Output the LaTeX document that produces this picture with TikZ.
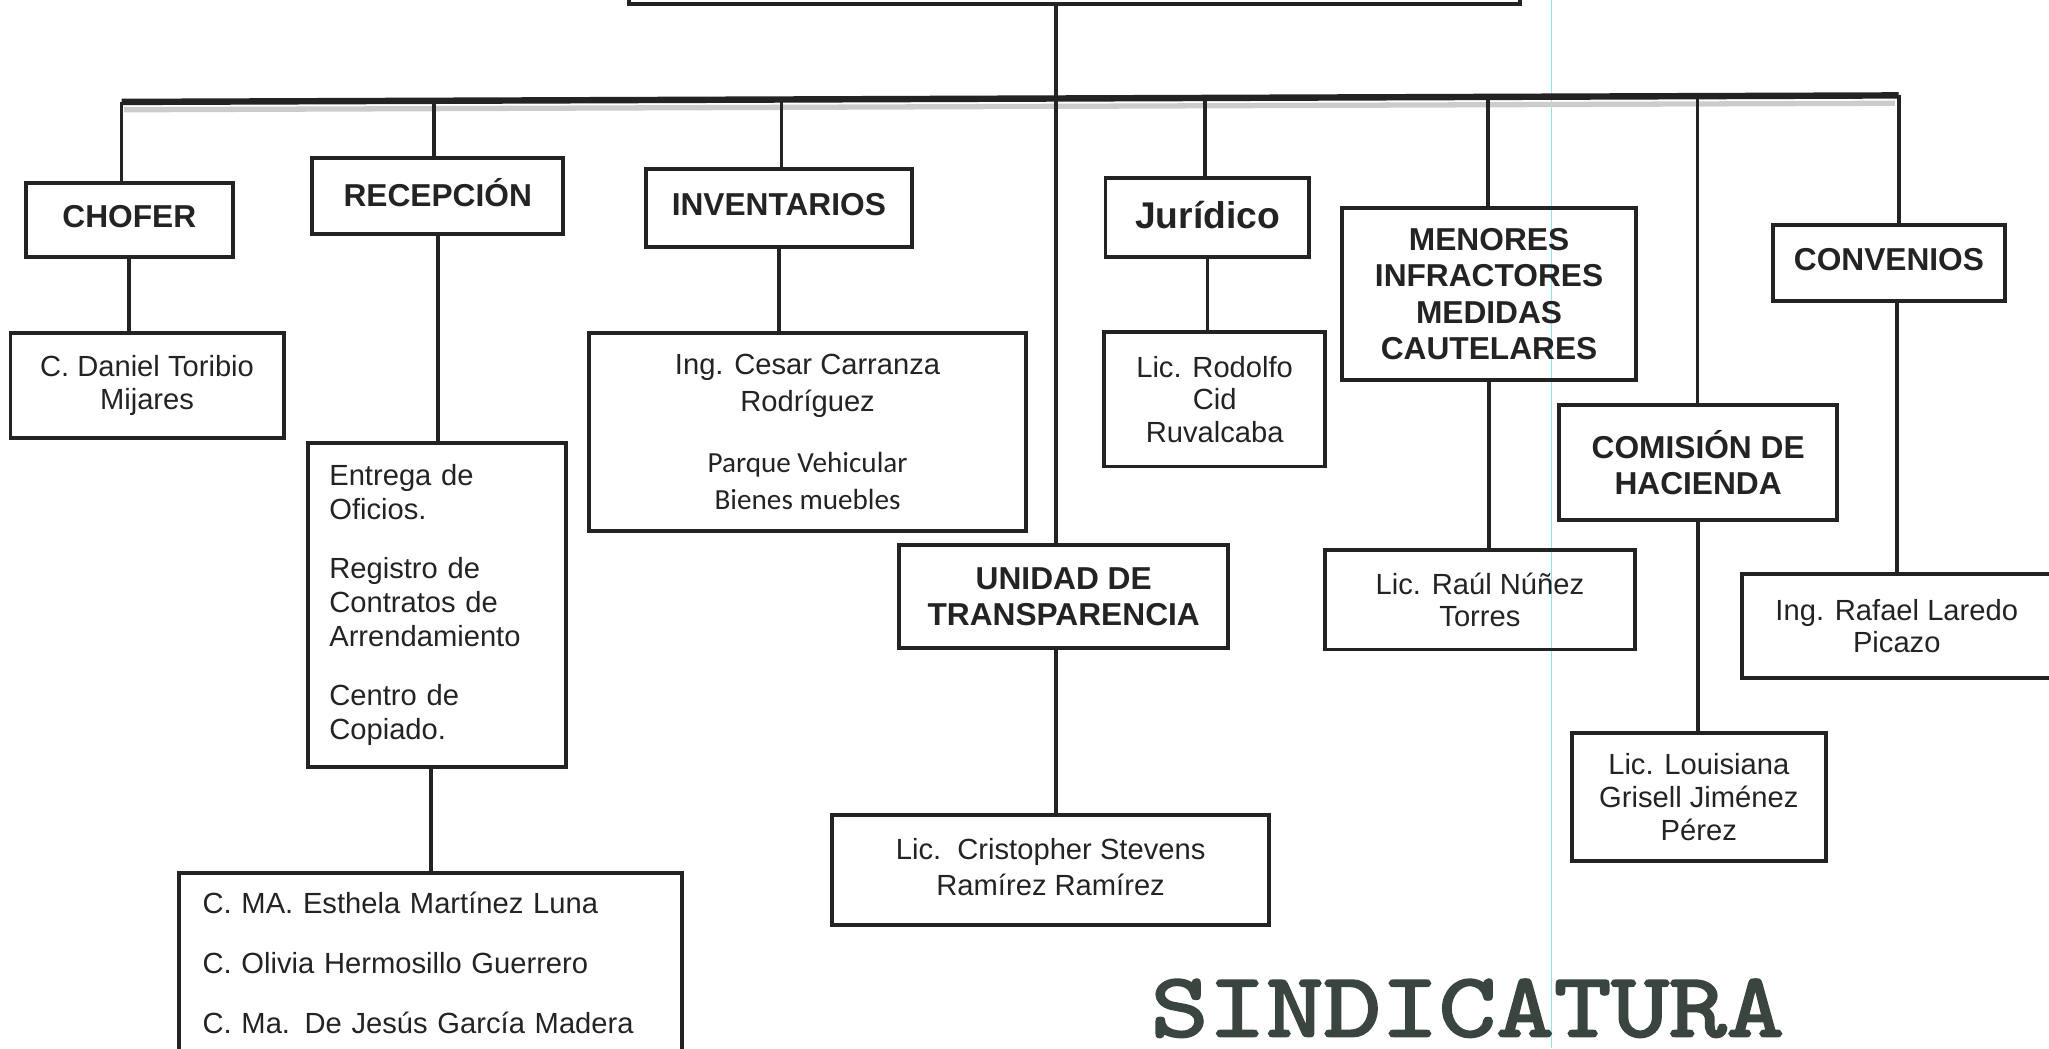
\documentclass[tikz,border=0pt]{standalone}
\usepackage{fontspec}
\setmainfont{Liberation Sans}
\newfontfamily\notefont{Carlito}
\newfontfamily\titlefont[FakeBold=2.5,FakeStretch=1.2]{lmmono10-regular.otf}
\usetikzlibrary{positioning}
\definecolor{ink}{HTML}{232323}
\definecolor{stamp}{HTML}{3A4540}
\definecolor{scanline}{HTML}{8FE6EA}
\tikzset{
  box size/.style 2 args = {
    minimum width = #1*0.02cm,
    minimum height = #2*0.02cm
  },
  chart box/.style = {
    draw = ink,
    line width = 1.7pt,
    rectangle,
    inner sep = 0,
    text = ink,
    align = center
  },
  % department heading
  unit/.style = {
    chart box,
    font = \fontsize{13.8}{15.9}\selectfont\bfseries
  },
  % person in charge
  staff/.style = {
    chart box,
    font = \fontsize{12.7}{14.2}\selectfont
  }
}
\tikzset {
  link/.style = {
    draw = ink,
    line width = 1.7pt
  },
  bus/.style = {
    draw = ink,
    line width = 2.8pt
  }
}

\begin{document}
\begin{tikzpicture}[x=0.02cm, y=-0.02cm]
  \useasboundingbox (0,0) rectangle (1568,802);
  \clip (0,0) rectangle (1568,802);
  \draw[scanline, line width = 0.5pt] (1187,0) -- (1187,802);

  \node[chart box, box size={682}{80}] (sindico) at (822,-37) {};

  \node[unit, box size={158}{57}] (chofer) at (99,168.5) {\raisebox{3pt}{CHOFER}};
  \node[staff, box size={209}{80}] (daniel) at (112.5,295) {C. Daniel Toribio\\Mijares};
  \node[unit, box size={192}{58}] (recepcion) at (335,150) {\raisebox{3pt}{RECEPCIÓN}};
  \node[staff, box size={197}{248}, text width=3.3cm, align=left,
        font=\fontsize{12.7}{14.8}\selectfont] (tareas) at (334.5,463)
    {Entrega de\\Oficios.\\[11pt]Registro de\\Contratos de\\Arrendamiento\\[11pt]Centro de\\Copiado.};
  \node[staff, box size={385}{138}, text width=6.98cm, align=left] (personal) at (329.5,737)
    {C. MA. Esthela Martínez Luna\\[12pt]C. Olivia Hermosillo Guerrero\\[12pt]C. Ma. De Jesús García Madera};
  \node[unit, box size={204}{60}] (inventarios) at (596,159) {\raisebox{3pt}{INVENTARIOS}};
  \node[staff, box size={334}{151}] (cesar) at (618,330.5)
    {Ing. Cesar Carranza\\[2pt]Rodríguez\\[12pt]{\notefont Parque Vehicular}\\[2pt]{\notefont Bienes muebles}};
  \node[unit, box size={252}{79}] (transparencia) at (814,456.5) {UNIDAD DE\\TRANSPARENCIA};
  \node[staff, box size={334}{84}] (cristopher) at (804,666) {\raisebox{3pt}{\shortstack{Lic.\ \ Cristopher Stevens\\[1pt]Ramírez Ramírez}}};
  \node[unit, box size={156}{61}, font=\fontsize{16.2}{18}\selectfont\bfseries] (juridico) at (924,166.5) {\raisebox{2pt}{Jurídico}};
  \node[staff, box size={169}{103}] (rodolfo) at (929.5,305.5) {Lic. Rodolfo\\Cid\\Ruvalcaba};
  \node[unit, box size={225}{132}] (menores) at (1139.5,225) {MENORES\\INFRACTORES\\MEDIDAS\\CAUTELARES};
  \node[staff, box size={237}{76}] (raul) at (1132.5,459) {Lic. Raúl Núñez\\Torres};
  \node[unit, box size={213}{88}] (comision) at (1299.5,354) {COMISIÓN DE\\HACIENDA};
  \node[staff, box size={194}{98}] (louisiana) at (1300,610) {Lic. Louisiana\\Grisell Jiménez\\Pérez};
  \node[unit, box size={177}{58}] (convenios) at (1445.5,201) {\raisebox{3pt}{CONVENIOS}};
  \node[staff, box size={237}{80}] (rafael) at (1451.5,479) {Ing. Rafael Laredo\\Picazo};

  \node[anchor=base, text=stamp, inner sep=0,
        font=\fontsize{39.8}{40}\titlefont] (titulo) at (1123,793) {SINDICATURA};

  % main bus
  \coordinate (trunk) at (808,75.4);
  \draw[gray!40, line width=2.3pt] (95,84) -- (1450,79);
  \draw[bus] (93,78) -- (1453,73);
  \draw[link] (trunk |- sindico.south) -- (trunk |- transparencia.north);
  \foreach \x/\y/\n in {93/78/chofer, 332/77.1/recepcion, 598/76.1/inventarios,
                        922/75/juridico, 1139/74.2/menores, 1299/73.6/comision, 1453/73/convenios}
    \draw[link] (\x,\y) -- (\x,\y |- \n.north);

  \draw[link] (chofer.south) -- (chofer.south |- daniel.north);
  \draw[link] (recepcion.south) -- (recepcion.south |- tareas.north);
  \draw[link] (personal.north |- tareas.south) -- (personal.north);
  \draw[link] (inventarios.south) -- (inventarios.south |- cesar.north);
  \draw[link] (trunk |- transparencia.south) -- (trunk |- cristopher.north);
  \draw[link] (juridico.south) -- (juridico.south |- rodolfo.north);
  \draw[link] (menores.south) -- (menores.south |- raul.north);
  \draw[link] (comision.south) -- (comision.south |- louisiana.north);
  \draw[link] (rafael.north |- convenios.south) -- (rafael.north);
\end{tikzpicture}
\end{document}
